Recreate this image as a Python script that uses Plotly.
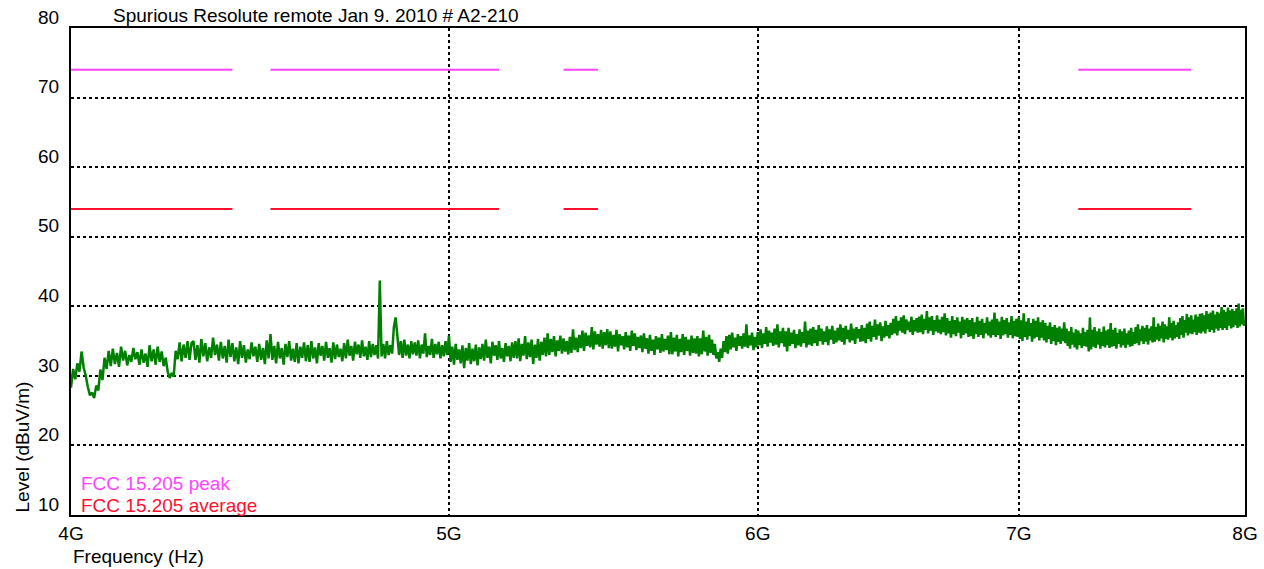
import math
import plotly.graph_objects as go

# ---------------- data ----------------
title_text = "Spurious Resolute remote Jan 9. 2010 # A2-210"

# measured sweep: 4000 .. 8000 MHz, 5 MHz grid
freq_mhz = list(range(4000, 8001, 5))

level_dbuv = [
    28.3, 31.0, 29.5, 31.8, 30.6, 33.5, 31.2, 30.0, 28.4, 27.2, 27.6, 26.8, 28.6, 27.9, 30.9, 29.4, 32.6, 31.0, 33.6, 31.4,  # 4000
    33.9, 31.7, 33.3, 31.3, 34.2, 32.2, 33.6, 31.5, 33.0, 32.0, 34.0, 32.4, 33.4, 31.6, 33.8, 31.9, 33.2, 31.3, 34.4, 32.1,  # 4100
    33.8, 31.6, 34.2, 32.0, 33.5, 31.4, 32.6, 30.6, 29.7, 30.4, 29.9, 33.6, 32.4, 34.8, 32.1, 34.5, 32.6, 35.0, 32.3, 34.7,  # 4200
    35.0, 32.3, 34.4, 31.9, 35.3, 32.8, 34.7, 32.1, 34.1, 32.6, 35.5, 33.0, 34.5, 32.2, 34.9, 32.5, 34.3, 31.9, 35.2, 32.7,  # 4300
    34.7, 32.1, 34.1, 31.7, 35.0, 32.6, 34.4, 31.9, 33.8, 32.4, 34.8, 32.8, 34.2, 32.0, 34.6, 32.3, 34.0, 31.7, 35.1, 32.5,  # 4400
    36.0, 32.3, 34.3, 31.8, 34.9, 32.5, 34.0, 31.6, 34.6, 32.7, 35.0, 32.2, 33.9, 32.0, 34.7, 31.8, 34.2, 32.6, 34.8, 32.1,  # 4500
    34.4, 32.0, 35.0, 32.5, 34.1, 31.8, 34.7, 32.9, 34.3, 32.2, 34.9, 32.6, 34.0, 31.9, 34.8, 32.4, 34.5, 32.7, 33.9, 32.1,  # 4600
    34.7, 32.5, 35.2, 32.9, 34.3, 32.2, 34.9, 33.1, 34.5, 32.6, 35.1, 32.8, 34.2, 32.3, 35.0, 32.7, 34.6, 33.0, 34.4, 32.5,  # 4700
    43.7, 32.8, 34.6, 32.5, 35.0, 33.0, 34.4, 33.2, 37.0, 38.4, 35.8, 33.0, 35.0, 32.6, 35.2, 32.9, 34.5, 32.5, 35.0, 33.1,  # 4800
    34.8, 32.9, 35.1, 32.5, 34.5, 33.2, 36.1, 32.7, 34.3, 33.0, 35.3, 32.6, 34.6, 33.1, 34.9, 32.5, 34.4, 32.8, 35.0, 33.0,  # 4900
    35.8, 32.0, 34.2, 31.6, 34.6, 32.3, 33.8, 31.8, 34.4, 31.1, 34.0, 32.2, 34.7, 31.7, 33.9, 32.1, 34.5, 31.5, 34.1, 32.4,  # 5000
    34.6, 32.2, 35.2, 32.6, 34.2, 31.8, 34.9, 32.9, 34.4, 32.3, 35.0, 32.5, 34.0, 32.0, 34.7, 32.8, 34.3, 32.1, 34.8, 32.6,  # 5100
    35.0, 32.5, 35.4, 32.1, 34.6, 32.9, 35.7, 32.4, 34.8, 32.7, 35.2, 31.7, 34.5, 32.6, 35.3, 32.2, 34.9, 33.0, 35.5, 32.8,  # 5200
    36.1, 33.0, 35.3, 33.4, 35.7, 32.8, 35.1, 33.6, 35.8, 33.2, 35.4, 33.5, 35.0, 33.1, 35.6, 33.3, 36.7, 33.7, 35.5, 33.4,  # 5300
    35.9, 34.0, 36.5, 33.6, 36.2, 34.3, 35.8, 34.1, 37.0, 33.8, 36.4, 34.5, 36.0, 34.2, 36.6, 33.9, 36.3, 34.4, 36.7, 34.0,  # 5400
    36.4, 33.9, 35.9, 34.2, 36.6, 33.5, 36.0, 34.4, 35.7, 33.8, 36.3, 34.1, 35.8, 33.6, 36.5, 34.3, 36.1, 33.7, 35.6, 34.0,  # 5500
    35.8, 33.4, 36.1, 33.9, 35.4, 33.2, 35.9, 33.6, 35.2, 33.0, 35.7, 33.8, 35.5, 33.3, 36.0, 33.5, 35.3, 33.7, 35.8, 33.1,  # 5600
    36.3, 33.1, 35.5, 33.5, 35.9, 32.8, 35.3, 33.4, 36.0, 33.0, 35.6, 33.6, 35.2, 32.9, 35.8, 33.3, 35.4, 33.2, 35.7, 32.8,  # 5700
    35.4, 33.1, 36.5, 33.5, 35.6, 32.9, 35.9, 33.3, 35.2, 33.0, 34.6, 32.5, 33.4, 32.0, 33.9, 32.6, 35.0, 33.4, 35.7, 33.2,  # 5800
    35.9, 33.8, 36.2, 34.1, 35.5, 33.6, 36.0, 34.3, 35.7, 33.9, 36.1, 34.2, 37.4, 34.0, 35.8, 34.4, 36.2, 33.7, 35.6, 34.1,  # 5900
    36.3, 34.4, 36.7, 34.0, 36.1, 34.6, 37.0, 34.2, 36.5, 34.8, 36.2, 34.3, 36.8, 34.5, 37.4, 34.1, 36.4, 34.7, 36.9, 34.2,  # 6000
    36.4, 33.5, 36.9, 34.3, 36.2, 34.6, 36.6, 34.0, 36.0, 34.4, 36.7, 34.2, 36.3, 34.7, 37.8, 34.1, 36.5, 34.5, 36.8, 34.3,  # 6100
    37.0, 34.7, 36.6, 34.3, 37.3, 35.0, 36.8, 34.5, 36.4, 34.9, 37.1, 34.4, 36.7, 35.2, 37.2, 34.6, 36.5, 34.8, 36.9, 35.1,  # 6200
    37.4, 34.9, 36.9, 34.5, 37.2, 35.3, 36.6, 34.8, 37.5, 35.1, 36.8, 34.6, 37.0, 35.4, 36.7, 34.9, 37.3, 35.0, 36.9, 34.7,  # 6300
    37.5, 35.3, 37.8, 34.9, 37.2, 35.6, 38.1, 35.2, 37.4, 35.8, 37.7, 35.0, 37.1, 35.5, 37.9, 35.7, 37.3, 35.4, 37.6, 35.9,  # 6400
    38.2, 36.1, 38.6, 35.8, 37.9, 36.5, 38.4, 36.2, 38.7, 36.0, 38.1, 36.6, 37.8, 36.3, 38.5, 35.9, 38.0, 36.4, 38.3, 36.2,  # 6500
    38.5, 36.3, 38.8, 36.0, 38.2, 36.6, 39.3, 36.1, 38.4, 36.5, 38.6, 35.9, 38.0, 36.4, 38.7, 36.2, 38.1, 36.0, 38.5, 36.3,  # 6600
    39.0, 35.8, 38.3, 36.1, 37.9, 35.5, 38.6, 36.0, 38.0, 35.7, 38.4, 36.2, 37.8, 35.4, 38.5, 35.9, 38.1, 36.1, 38.3, 35.6,  # 6700
    38.0, 35.7, 38.3, 35.3, 37.7, 36.0, 38.5, 35.6, 37.9, 35.9, 38.2, 35.4, 37.6, 36.1, 38.4, 35.8, 37.8, 35.5, 38.1, 35.9,  # 6800
    39.1, 35.6, 38.2, 35.9, 37.8, 35.3, 38.5, 35.8, 38.0, 36.0, 38.3, 35.5, 37.7, 35.9, 38.6, 35.4, 37.9, 35.7, 38.2, 35.6,  # 6900
    38.5, 35.3, 38.0, 35.0, 39.0, 35.6, 37.8, 35.2, 38.3, 35.7, 37.6, 34.9, 38.2, 35.4, 37.9, 35.6, 38.4, 35.1, 37.7, 35.5,  # 7000
    38.0, 35.1, 37.6, 34.8, 37.2, 35.3, 37.7, 34.6, 37.0, 35.0, 37.3, 34.4, 36.9, 34.9, 37.1, 34.6, 36.8, 35.0, 37.7, 34.7,  # 7100
    36.8, 34.3, 36.4, 33.9, 37.0, 34.5, 36.2, 34.1, 36.7, 33.8, 36.5, 34.4, 36.1, 34.0, 36.9, 34.3, 36.3, 34.2, 36.6, 33.5,  # 7200
    38.4, 33.8, 36.6, 34.2, 37.0, 34.0, 36.4, 34.5, 36.8, 33.9, 36.3, 34.3, 37.1, 34.1, 36.5, 34.4, 36.7, 34.0, 37.6, 34.2,  # 7300
    36.6, 34.3, 36.9, 33.9, 36.2, 34.6, 36.7, 34.1, 36.4, 34.4, 36.8, 34.0, 36.1, 34.5, 36.5, 34.2, 36.9, 34.3, 36.3, 34.6,  # 7400
    37.0, 34.7, 37.4, 34.4, 36.7, 35.0, 37.2, 34.6, 36.9, 34.9, 37.3, 34.5, 36.8, 35.1, 37.1, 34.8, 38.4, 34.9, 37.0, 35.2,  # 7500
    37.5, 35.0, 37.2, 35.4, 37.8, 34.8, 37.4, 35.3, 37.1, 35.2, 38.4, 35.5, 37.6, 35.1, 37.9, 35.4, 37.3, 35.6, 37.7, 35.3,  # 7600
    38.3, 35.9, 38.6, 35.5, 38.0, 36.2, 38.9, 35.8, 38.4, 36.1, 38.7, 36.0, 38.1, 36.3, 38.8, 35.9, 38.5, 36.2, 38.9, 36.1,  # 7700
    39.0, 36.4, 38.7, 36.1, 39.3, 36.7, 38.9, 36.3, 39.1, 36.6, 39.4, 36.2, 38.8, 36.8, 39.2, 36.5, 39.0, 36.9, 39.9, 36.6,  # 7800
    39.5, 36.9, 39.2, 36.6, 39.8, 37.2, 39.4, 36.8, 39.6, 37.0, 39.3, 37.3, 39.7, 36.9, 40.4, 37.1, 39.5, 37.4, 39.7, 37.2,  # 7900
    38.0,                                                                                                                    # 8000
]

# FCC 15.205 restricted bands (GHz) and limits (dBuV/m)
band_start_ghz = [4.0, 4.5, 5.35, 7.25]
band_stop_ghz = [4.4, 5.15, 5.46, 7.75]
peak_limit = 74
average_limit = 54

y_ticks = [10, 20, 30, 40, 50, 60, 70, 80]
x_tickvals_hz = [4e9, 5e9, 6e9, 7e9, 8e9]
x_ticktext = ["4G", "5G", "6G", "7G", "8G"]

# ---------------- build ----------------
FONT = "Liberation Sans, Arial, sans-serif"
FS = 19
PEAK_COLOR = "#ff44ff"
AVG_COLOR = "#ff1030"
TRACE_COLOR = "#008000"

freq_hz = [f * 1e6 for f in freq_mhz]

lim_x, lim_peak, lim_avg = [], [], []
for a, b in zip(band_start_ghz, band_stop_ghz):
    lim_x += [a * 1e9, b * 1e9, None]
    lim_peak += [peak_limit, peak_limit, None]
    lim_avg += [average_limit, average_limit, None]

fig = go.Figure()
fig.add_trace(go.Scatter(x=lim_x, y=lim_peak, mode="lines",
                         line=dict(color=PEAK_COLOR, width=2),
                         name="FCC 15.205 peak", connectgaps=False))
fig.add_trace(go.Scatter(x=lim_x, y=lim_avg, mode="lines",
                         line=dict(color=AVG_COLOR, width=2),
                         name="FCC 15.205 average", connectgaps=False))
fig.add_trace(go.Scatter(x=freq_hz, y=level_dbuv, mode="lines",
                         line=dict(color=TRACE_COLOR, width=2.5, simplify=False),
                         name="Level"))

fig.update_layout(
    width=1264, height=569,
    margin=dict(l=71, r=19, t=28, b=54),
    paper_bgcolor="white", plot_bgcolor="white",
    showlegend=False,
    font=dict(family=FONT, size=FS, color="black"),
)
fig.update_xaxes(
    type="log",
    range=[math.log10(4e9), math.log10(8e9)],
    tickvals=x_tickvals_hz, ticktext=x_ticktext,
    showgrid=True, gridcolor="black", griddash="dot", gridwidth=1.5,
    showline=True, linecolor="black", linewidth=2, mirror=True,
    ticks="", zeroline=False, automargin=False,
    tickfont=dict(size=FS),
)
fig.update_yaxes(
    range=[10, 80],
    tickvals=y_ticks,
    showgrid=True, gridcolor="black", griddash="dot", gridwidth=1.5,
    showline=True, linecolor="black", linewidth=2, mirror=True,
    ticks="", zeroline=False, automargin=False,
    ticklabelshift=-11, ticklabelstandoff=6,
    tickfont=dict(size=FS),
)

plot_w = 1264 - 71 - 19
plot_h = 569 - 28 - 54

annotations = [
    dict(text=title_text, xref="paper", yref="paper",
         x=(111 - 71) / plot_w, y=1, xanchor="left", yanchor="bottom",
         yshift=0, showarrow=False, font=dict(size=FS)),
    dict(text="Frequency (Hz)", xref="paper", yref="paper",
         x=0, y=0, xanchor="left", yanchor="middle", yshift=-41,
         showarrow=False, font=dict(size=FS)),
    dict(text="Level (dBuV/m)", xref="paper", yref="paper",
         x=0, y=0, xanchor="center", yanchor="bottom", xshift=-49,
         textangle=-90, showarrow=False, font=dict(size=FS)),
    dict(text="FCC 15.205 peak", xref="paper", yref="paper",
         x=(79 - 71) / plot_w, y=(515 - 483) / plot_h,
         xanchor="left", yanchor="middle",
         showarrow=False, font=dict(size=FS, color=PEAK_COLOR)),
    dict(text="FCC 15.205 average", xref="paper", yref="paper",
         x=(79 - 71) / plot_w, y=(515 - 505) / plot_h,
         xanchor="left", yanchor="middle",
         showarrow=False, font=dict(size=FS, color=AVG_COLOR)),
]
fig.update_layout(annotations=annotations)

fig.write_html("out.html")
